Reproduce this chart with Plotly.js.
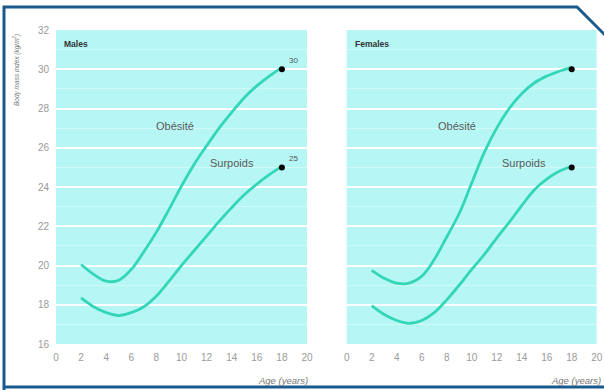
<!DOCTYPE html>
<html>
<head>
<meta charset="utf-8">
<script src="https://cdn.plot.ly/plotly-3.0.1.min.js"></script>
<style>html,body{margin:0;padding:0;background:#fff;}#chart{width:604px;height:390px;}</style>
</head>
<body>
<div id="chart"></div>
<script>
// Ages (years)
const ages = [2,3,4,5,6,7,8,9,10,11,12,13,14,15,16,17,18];
// Males
const maleObesity   = [20.05,19.55,19.2,19.25,19.8,20.7,21.7,22.85,24.05,25.15,26.1,27.0,27.8,28.55,29.15,29.65,30.1];
const maleOverweight= [18.35,17.9,17.6,17.45,17.6,17.9,18.45,19.2,20.0,20.75,21.5,22.25,22.95,23.6,24.15,24.63,25.05];
// Females
const femaleObesity   = [19.75,19.35,19.1,19.1,19.45,20.3,21.45,22.65,24.2,25.75,27.0,28.0,28.75,29.3,29.65,29.9,30.1];
const femaleOverweight= [17.95,17.5,17.2,17.05,17.2,17.6,18.25,19.0,19.8,20.55,21.4,22.2,23.05,23.85,24.4,24.8,25.05];
// End-point markers
const endAge = [18, 18];
const endBMI = [30, 25];
// Tick values
const xTicks = [0,2,4,6,8,10,12,14,16,18,20];
const yTicks = [16,18,20,22,24,26,28,30,32];

const curveColor = '#33d6b8';
const W = 604, H = 390;
const px = v => v / W, py = v => 1 - v / H;

function curve(x, y, xa, ya) {
  return {x: x, y: y, xaxis: xa, yaxis: ya, type: 'scatter', mode: 'lines',
    line: {color: curveColor, width: 2.8, shape: 'spline', smoothing: 1}, hoverinfo: 'skip'};
}
function dots(xa, ya) {
  return {x: endAge, y: endBMI, xaxis: xa, yaxis: ya, type: 'scatter', mode: 'markers',
    marker: {color: '#000', size: 6}, hoverinfo: 'skip'};
}

const data = [
  curve(ages, maleObesity, 'x', 'y'),
  curve(ages, maleOverweight, 'x', 'y'),
  dots('x', 'y'),
  curve(ages, femaleObesity, 'x2', 'y2'),
  curve(ages, femaleOverweight, 'x2', 'y2'),
  dots('x2', 'y2')
];

const tickFont = {family: 'Liberation Sans, Arial, sans-serif', size: 10, color: '#9a9a9a'};
const xBase = {range: [0, 20], tickvals: xTicks, showgrid: false, zeroline: false, showline: false,
  ticks: '', tickfont: tickFont, fixedrange: true, ticklabelstandoff: 6};
const yBase = {range: [16, 32], tickvals: yTicks, showgrid: true, gridcolor: '#ffffff', gridwidth: 2,
  minor: {dtick: 1, showgrid: true, gridcolor: 'rgba(255,255,255,0.35)', gridwidth: 1},
  zeroline: false, showline: false, ticks: '', tickfont: tickFont, fixedrange: true,
  domain: [py(344), py(30)]};

const txtFont = {family: 'Liberation Sans, Arial, sans-serif', size: 11, color: '#5a5a5a'};
const smallFont = {family: 'Liberation Sans, Arial, sans-serif', size: 8, color: '#555'};
const boldFont = {family: 'Liberation Sans, Arial, sans-serif', size: 8.5, color: '#333'};
const titleFont = {family: 'Liberation Sans, Arial, sans-serif', size: 9.5, color: '#777'};

const annotations = [
  {xref: 'x', yref: 'y', x: 0.5, y: 31.3, text: '<b>Males</b>', showarrow: false, xanchor: 'left', font: boldFont},
  {xref: 'x2', yref: 'y2', x: 0.5, y: 31.3, text: '<b>Females</b>', showarrow: false, xanchor: 'left', font: boldFont},
  {xref: 'x', yref: 'y', x: 9.5, y: 27.1, text: 'Obésité', showarrow: false, font: txtFont},
  {xref: 'x', yref: 'y', x: 14.0, y: 25.2, text: 'Surpoids', showarrow: false, font: txtFont},
  {xref: 'x2', yref: 'y2', x: 8.86, y: 27.1, text: 'Obésité', showarrow: false, font: txtFont},
  {xref: 'x2', yref: 'y2', x: 14.2, y: 25.2, text: 'Surpoids', showarrow: false, font: txtFont},
  {xref: 'x', yref: 'y', x: 18.4, y: 30.45, text: '30', showarrow: false, xanchor: 'left', font: smallFont},
  {xref: 'x', yref: 'y', x: 18.4, y: 25.45, text: '25', showarrow: false, xanchor: 'left', font: smallFont},
  {xref: 'paper', yref: 'paper', x: px(16), y: py(32), xanchor: 'center', yanchor: 'top',
    text: '<i>Body mass index (kg/m<sup>2</sup>)</i>',
    textangle: -90, showarrow: false, font: {family: 'Liberation Sans, Arial, sans-serif', size: 6.5, color: '#777'}},
  {xref: 'paper', yref: 'paper', x: px(310), y: py(380), xanchor: 'right', yanchor: 'middle',
    text: '<i>Age (years)</i>', showarrow: false, font: titleFont},
  {xref: 'paper', yref: 'paper', x: px(603), y: py(380), xanchor: 'right', yanchor: 'middle',
    text: '<i>Age (years)</i>', showarrow: false, font: titleFont}
];

const frame = 'M ' + px(4) + ',' + py(392) + ' L ' + px(4) + ',' + py(7) + ' L ' + px(577) + ',' + py(7) +
  ' L ' + px(610) + ',' + py(40) + ' L ' + px(610) + ',' + py(387) + ' L ' + px(4) + ',' + py(387) + ' Z';

const layout = {
  width: W, height: H,
  margin: {l: 0, r: 0, t: 0, b: 0},
  paper_bgcolor: '#ffffff',
  plot_bgcolor: '#b6f7f5',
  showlegend: false,
  xaxis: Object.assign({}, xBase, {domain: [px(56), px(307)], anchor: 'y'}),
  yaxis: Object.assign({}, yBase, {anchor: 'x', showticklabels: true, ticklabelstandoff: 6}),
  xaxis2: Object.assign({}, xBase, {domain: [px(346.7), px(596.7)], anchor: 'y2'}),
  yaxis2: Object.assign({}, yBase, {anchor: 'x2', showticklabels: false}),
  annotations: annotations,
  shapes: [{type: 'path', xref: 'paper', yref: 'paper', path: frame,
    line: {color: '#1a5a8c', width: 3}, fillcolor: 'rgba(0,0,0,0)', layer: 'above'}]
};

Plotly.newPlot('chart', data, layout, {displayModeBar: false, staticPlot: true});
</script>
</body>
</html>
